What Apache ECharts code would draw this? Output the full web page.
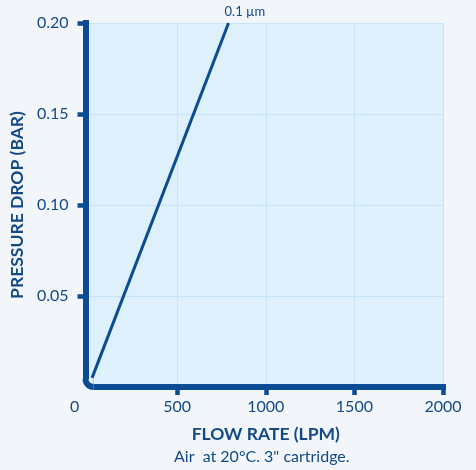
<!DOCTYPE html>
<html>
<head>
<meta charset="utf-8">
<script src="https://cdn.jsdelivr.net/npm/echarts@6/dist/echarts.min.js"></script>
<style>
html,body{margin:0;padding:0;background:#f2f6fb;}
#c{width:476px;height:470px;}
</style>
</head>
<body>
<div id="c"></div>
<script>
const flowRate = [20, 790];
const pressureDrop = [0.005, 0.2];
const seriesName = '0.1 µm';
const xTicks = [0, 500, 1000, 1500, 2000];
const yTicks = [0, 0.05, 0.10, 0.15, 0.20];
const xTitle = 'FLOW RATE (LPM)';
const yTitle = 'PRESSURE DROP (BAR)';
const note = 'Air  at 20°C. 3" cartridge.';

const DARK = '#0b4c94';
const TXT = '#134a86';
const PAGE = '#f2f6fb';
const PLOT = '#dff0fd';
const FONT = 'Lato, "Noto Sans", sans-serif';

const chart = echarts.init(document.getElementById('c'));
chart.setOption({
  backgroundColor: PAGE,
  animation: false,
  title: {
    text: note,
    left: 174,
    top: 449,
    textStyle: {color: TXT, fontFamily: FONT, fontSize: 16, fontWeight: 'normal'},
    padding: 0
  },
  grid: {
    left: 87, right: 33, top: 23, bottom: 83,
    show: true, backgroundColor: PLOT, borderWidth: 0
  },
  xAxis: {
    type: 'value',
    min: xTicks[0], max: xTicks[xTicks.length - 1], interval: 500,
    name: xTitle,
    nameLocation: 'middle',
    nameGap: 38,
    nameTextStyle: {color: TXT, fontFamily: FONT, fontSize: 17.5, fontWeight: 'bold'},
    axisLine: {show: true, onZero: false, lineStyle: {color: DARK, width: 6, cap: 'square'}},
    axisTick: {show: true, length: 8, customValues: xTicks.slice(1), lineStyle: {color: DARK, width: 4.5}},
    axisLabel: {
      color: TXT, fontFamily: FONT, fontSize: 16, margin: 12,
      formatter: v => v === 0 ? '{z|0}' : String(v),
      rich: {z: {padding: [0, 28, 0, 0], color: TXT, fontFamily: FONT, fontSize: 16}}
    },
    splitLine: {show: true, lineStyle: {color: '#c6e4f9', width: 1}}
  },
  yAxis: {
    type: 'value',
    min: yTicks[0], max: yTicks[yTicks.length - 1], interval: 0.05,
    offset: 3,
    name: yTitle,
    nameLocation: 'middle',
    nameGap: 50,
    nameTextStyle: {color: TXT, fontFamily: FONT, fontSize: 17.5, fontWeight: 'bold'},
    axisLine: {show: true, onZero: false, lineStyle: {color: DARK, width: 6, cap: 'square'}},
    axisTick: {show: true, length: 8, customValues: yTicks.slice(1), lineStyle: {color: DARK, width: 4.5}},
    axisLabel: {
      color: TXT, fontFamily: FONT, fontSize: 16, margin: 17,
      formatter: v => v === 0 ? '' : v.toFixed(2)
    },
    splitLine: {show: true, lineStyle: {color: '#c6e4f9', width: 1}}
  },
  series: [{
    type: 'line',
    name: seriesName,
    data: flowRate.map((f, i) => [f, pressureDrop[i]]),
    symbol: 'none',
    z: 5,
    lineStyle: {color: DARK, width: 3},
    endLabel: {
      show: true, formatter: seriesName, color: TXT, fontFamily: FONT, fontSize: 13,
      offset: [-12, -11]
    }
  }]
});

// rounded corner where the two axis lines meet (decoration only)
const p0 = chart.convertToPixel({gridIndex: 0}, [xTicks[0], yTicks[0]]);
const ax = p0[0] - 3, ay = p0[1];
const R = 11;
const cx = ax - 3 + R, cy = ay + 3 - R;
chart.setOption({
  graphic: [
    {type: 'rect', z: 3, silent: true,
     shape: {x: ax - 5, y: cy, width: cx - (ax - 5), height: ay + 5 - cy},
     style: {fill: PAGE}},
    {type: 'sector', z: 3, silent: true,
     shape: {cx: cx, cy: cy, r0: 0, r: R, startAngle: Math.PI / 2, endAngle: Math.PI, clockwise: true},
     style: {fill: DARK}},
    {type: 'sector', z: 3, silent: true,
     shape: {cx: cx, cy: cy, r0: 0, r: R - 6, startAngle: Math.PI / 2, endAngle: Math.PI, clockwise: true},
     style: {fill: PLOT}}
  ]
});
</script>
</body>
</html>
